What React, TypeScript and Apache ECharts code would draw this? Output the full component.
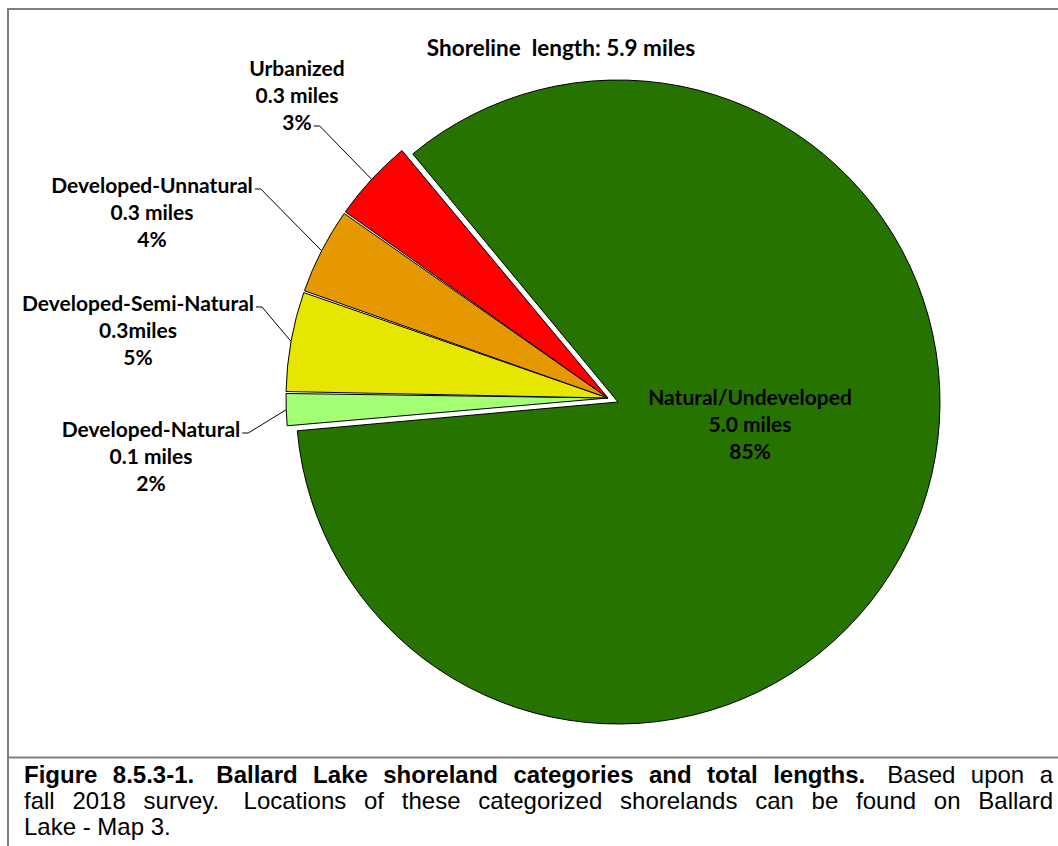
import React, { useEffect, useRef } from 'react';
import * as echarts from 'echarts';

// ---- data ----
const categories = [
  'Natural/Undeveloped',
  'Developed-Natural',
  'Developed-Semi-Natural',
  'Developed-Unnatural',
  'Urbanized',
];
// estimated shoreline lengths (miles) that give the slice sizes seen
const sliceMiles = [4.99, 0.1, 0.3, 0.26, 0.25];
const mileLabels = ['5.0 miles', '0.1 miles', '0.3miles', '0.3 miles', '0.3 miles'];
const percentLabels = ['85%', '2%', '5%', '4%', '3%'];
const sliceColors = ['#267300', '#A3FF73', '#E6E600', '#E69800', '#FF0000'];
const chartTitle = 'Shoreline  length: 5.9 miles';
const captionLines = [
  [
    { t: 'Figure 8.5.3-1.  Ballard Lake shoreland categories and total lengths.', b: true },
    { t: '  Based upon a', b: false },
  ],
  [{ t: 'fall 2018 survey.  Locations of these categorized shorelands can be found on Ballard', b: false }],
  [{ t: 'Lake - Map 3.', b: false }],
];

// ---- layout ----
const LABEL_FS = 21;
const LABEL_LH = 27;
const LABEL_FAMILY = 'Lato';
const labelCenters: number[][] = [
  [750, 423],
  [151, 455],
  [138, 329],
  [152, 211],
  [297, 94],
];
const leaderLineIndex = [-1, 0, 0, 0, 2];
const START_ANGLE = 129.6;
const RADIUS = 322;
const CENTER_SMALL = [608, 398];
const CENTER_MAIN = [618, 402];

let measureCtx: CanvasRenderingContext2D | null = null;
function measure(text: string, font: string): number {
  if (!measureCtx) measureCtx = document.createElement('canvas').getContext('2d');
  if (!measureCtx) return text.length * 10;
  measureCtx.font = font;
  return measureCtx.measureText(text).width;
}

function buildCaption(): any[] {
  const els: any[] = [];
  const left = 24;
  const right = 1053;
  const fs = 24;
  const baselines = [783, 809, 835];
  const fontOf = (b: boolean) => `${b ? 'bold ' : ''}${fs}px "Liberation Sans"`;
  captionLines.forEach((segs, li) => {
    const words: { t: string; b: boolean; sp: number }[] = [];
    segs.forEach((seg) => {
      const lead = (seg.t.match(/^\s*/) || [''])[0].length;
      if (lead && words.length) words[words.length - 1].sp += lead;
      const re = /(\S+)(\s*)/g;
      let m: RegExpExecArray | null;
      while ((m = re.exec(seg.t))) words.push({ t: m[1], b: seg.b, sp: m[2].length });
    });
    words[words.length - 1].sp = 0;
    const widths = words.map((w) => measure(w.t, fontOf(w.b)));
    const spW = measure(' ', fontOf(false));
    let natural = 0;
    words.forEach((w, k) => (natural += widths[k] + w.sp * spW));
    const gaps = words.length - 1;
    const justify = li < captionLines.length - 1;
    const extra = justify && gaps > 0 ? (right - left - natural) / gaps : 0;
    let x = left;
    const y = baselines[li] - 0.347 * fs;
    words.forEach((w, k) => {
      els.push({
        type: 'text',
        x,
        y,
        silent: true,
        style: {
          text: w.t,
          fill: '#000',
          fontFamily: '"Liberation Sans", Arial, sans-serif',
          fontSize: fs,
          fontWeight: w.b ? 'bold' : 'normal',
          align: 'left',
          verticalAlign: 'middle',
        },
      });
      x += widths[k] + w.sp * spW + extra;
    });
  });
  return els;
}

function labelLayout(params: any) {
  const i = params.dataIndex;
  const [cx, cy] = labelCenters[i];
  const res: any = { x: cx, y: cy, align: 'center', verticalAlign: 'middle' };
  const li = leaderLineIndex[i];
  if (li >= 0 && params.labelLinePoints && params.labelLinePoints.length) {
    const lines = [categories[i], mileLabels[i], percentLabels[i]];
    const w = measure(lines[li], `bold ${LABEL_FS}px ${LABEL_FAMILY}`);
    const ly = cy + (li - 1) * LABEL_LH + 5;
    const lx = cx + w / 2 + 2;
    const a = params.labelLinePoints[0];
    res.labelLinePoints = [a, [lx + 6, ly], [lx, ly]];
  }
  return res;
}

const hiddenItem = {
  itemStyle: { color: 'rgba(0,0,0,0)', borderWidth: 0 },
  label: { show: false },
  labelLine: { show: false },
};

function buildSeriesData(visible: (i: number) => boolean) {
  return categories.map((name, i) => {
    if (!visible(i)) return { name, value: sliceMiles[i], ...hiddenItem };
    return {
      name,
      value: sliceMiles[i],
      itemStyle: { color: sliceColors[i], borderColor: '#000', borderWidth: 1 },
      labelLine: { show: i !== 0 },
    };
  });
}

const labelStyle = {
  show: true,
  color: '#000',
  fontFamily: LABEL_FAMILY,
  fontWeight: 'bold' as const,
  fontSize: LABEL_FS,
  lineHeight: LABEL_LH,
  align: 'center' as const,
  formatter: (p: any) => `${categories[p.dataIndex]}\n${mileLabels[p.dataIndex]}\n${percentLabels[p.dataIndex]}`,
};

export default function App() {
  const ref = useRef<HTMLDivElement>(null);
  useEffect(() => {
    if (!ref.current) return;
    const chart = echarts.init(ref.current, undefined, { renderer: 'svg' });
    const frame = [
      { type: 'line', shape: { x1: 7, y1: 9, x2: 1058, y2: 9 } },
      { type: 'line', shape: { x1: 8, y1: 8, x2: 8, y2: 846 } },
      { type: 'line', shape: { x1: 8, y1: 757.5, x2: 1058, y2: 757.5 } },
    ].map((l) => ({ ...l, silent: true, style: { stroke: '#7f7f7f', lineWidth: 2 } }));
    chart.setOption({
      animation: false,
      backgroundColor: '#fff',
      title: {
        text: chartTitle,
        left: 556,
        top: 31,
        textAlign: 'center',
        textStyle: { fontFamily: LABEL_FAMILY, fontWeight: 'bold', fontSize: 22.5, color: '#000' },
      },
      graphic: [...frame, ...buildCaption()],
      series: [
        {
          type: 'pie',
          name: 'main',
          center: CENTER_MAIN,
          radius: RADIUS,
          startAngle: START_ANGLE,
          clockwise: true,
          avoidLabelOverlap: false,
          silent: true,
          emphasis: { disabled: true },
          label: { ...labelStyle, position: 'inside' },
          labelLine: { show: false },
          labelLayout,
          data: buildSeriesData((i) => i === 0),
        },
        {
          type: 'pie',
          name: 'developed',
          center: CENTER_SMALL,
          radius: RADIUS,
          startAngle: START_ANGLE,
          clockwise: true,
          padAngle: 0.35,
          avoidLabelOverlap: false,
          silent: true,
          emphasis: { disabled: true },
          label: { ...labelStyle, position: 'outside' },
          labelLine: { show: true, length: 10, length2: 6, lineStyle: { color: '#000', width: 1 } },
          labelLayout,
          data: buildSeriesData((i) => i !== 0),
        },
      ],
    });
    return () => chart.dispose();
  }, []);
  return <div ref={ref} style={{ position: 'absolute', left: 0, top: 0, width: 1058, height: 846 }} />;
}
